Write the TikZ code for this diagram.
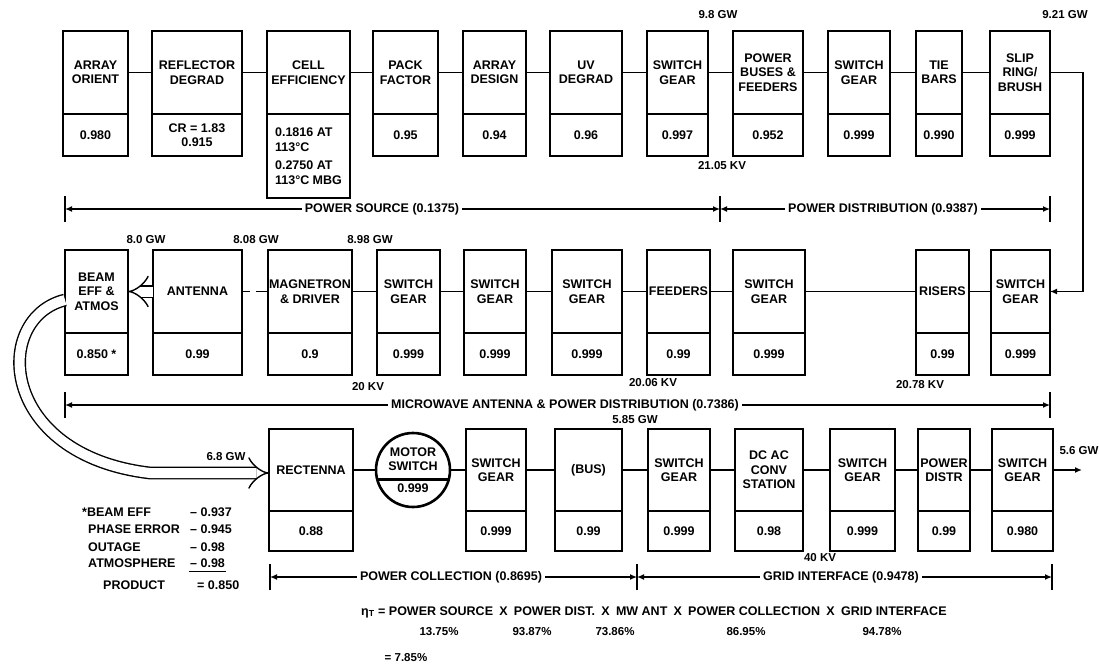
\documentclass[tikz,border=0pt]{standalone}
\usepackage{fontspec}
\setmainfont{Liberation Sans}
\usetikzlibrary{positioning, arrows.meta, calc}

\tikzset{
  hd/.style={draw, line width=2.6pt, inner sep=1pt, outer sep=0pt, align=center},
  vl/.style={draw, line width=2.6pt, inner sep=1pt, outer sep=0pt, align=center},
  wire/.style={line width=1.8pt},
  beamline/.style={double, double distance=10pt, line width=1.4pt, -{Implies}},
  span/.style={line width=1.3pt, {Latex[length=7pt, width=6pt]}-{Latex[length=7pt, width=6pt]}},
  spantick/.style={line width=1.8pt},
  spanlabel/.style={fill=white, inner sep=3pt},
  tag/.style={font=\fontsize{11.5}{13}\selectfont\bfseries, inner sep=1pt},
}

\begin{document}
\begin{tikzpicture}[x=1pt, y=-1pt, font=\fontsize{12.5}{14.5}\selectfont\bfseries]
  \useasboundingbox (0,0) rectangle (1099,666);

  % power source and power distribution
  \foreach \nm/\xa/\xb/\hv/\al/\ttl/\val in {
      orient/63/128/42/center/{ARRAY\\ORIENT}/{0.980},
      reflect/152/242/42/center/{REFLECTOR\\DEGRAD}/{CR = 1.83\\0.915},
      cell/267/350/84/left/{CELL\\EFFICIENCY}/{0.1816 AT\\113°C\\[4pt]0.2750 AT\\113°C MBG},
      pack/373/438/42/center/{PACK\\FACTOR}/{0.95},
      design/463/526/42/center/{ARRAY\\DESIGN}/{0.94},
      uv/550/622/42/center/{UV\\DEGRAD}/{0.96},
      sga/647/708/42/center/{SWITCH\\GEAR}/{0.997},
      buses/733/803/42/center/{POWER\\BUSES \&\\FEEDERS}/{0.952},
      sgb/828/890/42/center/{SWITCH\\GEAR}/{0.999},
      tie/916/962/42/center/{TIE\\BARS}/{0.990},
      slip/990/1050/42/center/{SLIP\\RING/\\BRUSH}/{0.999}} {
    \node[hd, minimum width=\xb-\xa, minimum height=83] (\nm) at ({(\xa+\xb)/2},72.5) {\ttl};
    \node[vl, align=\al, minimum width=\xb-\xa, minimum height=\hv, below=0pt of \nm] (\nm-v) {\val};
  }
  \foreach \a/\b in {orient/reflect, reflect/cell, cell/pack, pack/design, design/uv,
      uv/sga, sga/buses, buses/sgb, sgb/tie, tie/slip}
    \draw[wire] (\a) -- (\b);

  % microwave antenna and power distribution
  \foreach \nm/\xa/\xb/\ttl/\val in {
      beff/65/128/{BEAM\\EFF \&\\ATMOS}/{0.850 *},
      ant/153/242/{ANTENNA}/{0.99},
      mag/268/352/{MAGNETRON\\\& DRIVER}/{0.9},
      msa/377/440/{SWITCH\\GEAR}/{0.999},
      msb/464/526/{SWITCH\\GEAR}/{0.999},
      msc/552/622/{SWITCH\\GEAR}/{0.999},
      feed/647/710/{FEEDERS}/{0.99},
      msd/733/805/{SWITCH\\GEAR}/{0.999},
      risers/916/969/{RISERS}/{0.99},
      mse/991/1050/{SWITCH\\GEAR}/{0.999}} {
    \node[hd, minimum width=\xb-\xa, minimum height=83] (\nm) at ({(\xa+\xb)/2},291.5) {\ttl};
    \node[vl, minimum width=\xb-\xa, minimum height=42, below=0pt of \nm] (\nm-v) {\val};
  }
  \foreach \a/\b in {mse/risers, risers/msd, msd/feed, feed/msc, msc/msb, msb/msa, msa/mag}
    \draw[wire] (\a) -- (\b);
  \draw[wire, dash pattern=on 12pt off 6pt] (mag) -- (ant);
  \draw[beamline] (ant) -- (beff);
  \draw[wire, -{Latex[length=7pt, width=6pt]}] (slip.east) -- ++(33,0) |- (mse.east);

  % power collection and grid interface
  \foreach \nm/\xa/\xb/\ttl/\val in {
      rect/269/353/{RECTENNA}/{0.88},
      gsa/466/526/{SWITCH\\GEAR}/{0.999},
      bus/555/622/{(BUS)}/{0.99},
      gsb/648/710/{SWITCH\\GEAR}/{0.999},
      dcac/735/803/{DC AC\\CONV\\STATION}/{0.98},
      gsc/830/895/{SWITCH\\GEAR}/{0.999},
      pdistr/918/970/{POWER\\DISTR}/{0.99},
      gsd/992/1053/{SWITCH\\GEAR}/{0.980}} {
    \node[hd, minimum width=\xb-\xa, minimum height=82] (\nm) at ({(\xa+\xb)/2},470) {\ttl};
    \node[vl, minimum width=\xb-\xa, minimum height=40, below=0pt of \nm] (\nm-v) {\val};
  }
  \node[draw, circle, line width=2.6pt, minimum size=74, inner sep=0pt, outer sep=0pt,
    align=center] (motor) at (413,470) {MOTOR\\SWITCH\\[7pt]0.999};
  \draw[line width=2.2pt] (motor.195) -- (motor.345);
  \foreach \a/\b in {rect/motor, motor/gsa, gsa/bus, bus/gsb, gsb/dcac, dcac/gsc,
      gsc/pdistr, pdistr/gsd}
    \draw[wire] (\a) -- (\b);
  \coordinate (out) at (1082,470);
  \draw[wire, -{Latex[length=7pt, width=6pt]}] (gsd) -- (out);
  \draw[beamline] ($(beff.west)+(0,8.5)$) .. controls (-8,318) and (-2,455) .. (150,473) -- (rect.west |- 0,473);

  % power and voltage tags
  \node[tag] (p1) at (718,15) {9.8 GW};
  \node[tag] (p2) at (1065,15) {9.21 GW};
  \node[tag] (v1) at (722,166) {21.05 KV};
  \node[tag] (p3) at (146,240) {8.0 GW};
  \node[tag] (p4) at (256,240) {8.08 GW};
  \node[tag] (p5) at (370,240) {8.98 GW};
  \node[tag] (v2) at (368,387) {20 KV};
  \node[tag] (v3) at (653,383) {20.06 KV};
  \node[tag] (v4) at (920,385) {20.78 KV};
  \node[tag] (p6) at (635,420) {5.85 GW};
  \node[tag] (p7) at (226,457) {6.8 GW};
  \node[tag] (v5) at (820,558) {40 KV};
  \node[tag] (p8) at (1079,451) {5.6 GW};

  % spans
  \coordinate (ps-l) at (65,209);  \coordinate (ps-r) at (720,209);  \coordinate (pd-r) at (1050,209);
  \coordinate (mw-l) at (65,405);  \coordinate (mw-r) at (1050,405);
  \coordinate (pc-l) at (270,577); \coordinate (pc-r) at (637,577); \coordinate (gi-r) at (1052,577);
  \foreach \a/\b in {ps-l/ps-r, ps-r/pd-r, mw-l/mw-r, pc-l/pc-r, pc-r/gi-r}
    \draw[span] (\a) -- (\b);
  \foreach \c in {ps-l, ps-r, pd-r, mw-l, mw-r, pc-l, pc-r, gi-r}
    \draw[spantick] ($(\c)+(0,-13)$) -- ($(\c)+(0,13)$);
  \node[spanlabel] (s1) at (382,209) {POWER SOURCE (0.1375)};
  \node[spanlabel] (s2) at (883,209) {POWER DISTRIBUTION (0.9387)};
  \node[spanlabel] (s3) at (565,405) {MICROWAVE ANTENNA \& POWER DISTRIBUTION (0.7386)};
  \node[spanlabel] (s4) at (451,577) {POWER COLLECTION (0.8695)};
  \node[spanlabel] (s5) at (841,577) {GRID INTERFACE (0.9478)};

  % beam efficiency breakdown
  \foreach \i/\y/\xl/\xv/\t/\v in {1/512/81/189/{*BEAM EFF}/{– 0.937},
      2/529/87/189/{PHASE ERROR}/{– 0.945}, 3/547/87/189/{OUTAGE}/{– 0.98},
      4/563/87/189/{ATMOSPHERE}/{– 0.98}, 5/585/102/196/{PRODUCT}/{= 0.850}} {
    \node[anchor=west, inner sep=1pt] (bl-\i) at (\xl,\y) {\t};
    \node[anchor=west, inner sep=1pt] (bv-\i) at (\xv,\y) {\v};
  }
  \draw[line width=1.3pt] ($(bv-4.south west)+(0,3)$) -- ($(bv-4.south east)+(0,3)$);

  % overall efficiency
  \node[anchor=west, inner sep=1pt] (eta) at (360,612)
    {η\textsubscript{T} = POWER SOURCE\enspace X\enspace POWER DIST.\enspace X\enspace MW ANT\enspace X\enspace POWER COLLECTION\enspace X\enspace GRID INTERFACE};
  \foreach \x/\v in {439/13.75\%, 532/93.87\%, 615/73.86\%, 746/86.95\%, 882/94.78\%}
    \node[tag] at (\x,632) {\v};
  \node[tag] (tot) at (406,658) {= 7.85\%};
\end{tikzpicture}
\end{document}
